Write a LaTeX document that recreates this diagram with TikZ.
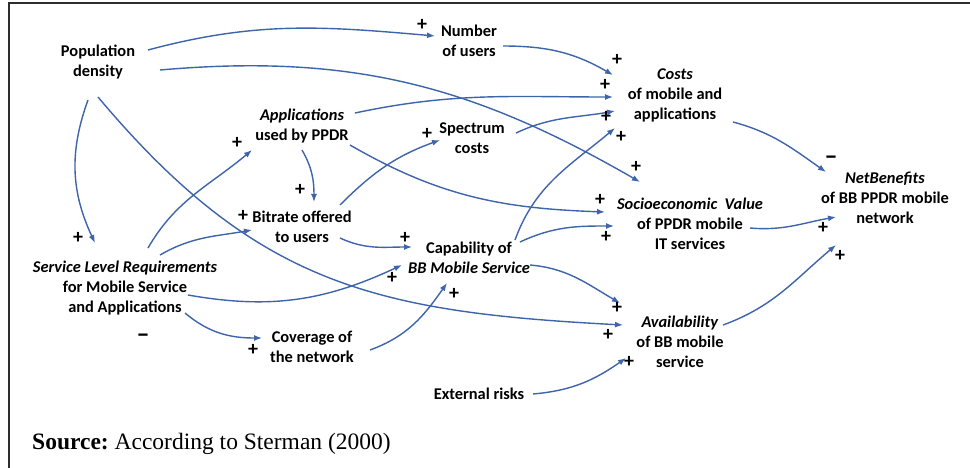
\documentclass[tikz,border=0pt]{standalone}
\usepackage{fontspec}
\setmainfont{Carlito}
\newfontfamily\srcfont{Liberation Serif}
\usetikzlibrary{arrows.meta}
\definecolor{arr}{RGB}{62,100,170}
\definecolor{frame}{RGB}{45,45,45}
\tikzset{
  var/.style={font=\bfseries\fontsize{16.4}{20}\selectfont, align=center, inner sep=0pt},
  pol/.style={font=\bfseries\fontsize{20}{20}\selectfont, inner sep=0pt},
  neg/.style={font=\bfseries\fontsize{26}{26}\selectfont, inner sep=0pt},
  link/.style={draw=arr, line width=1.4pt, -{Latex[length=8pt,width=6pt]}},
}
\begin{document}
\begin{tikzpicture}[x=1pt,y=1pt]
\useasboundingbox (0,0) rectangle (970,-468);
\fill[white] (0,0) rectangle (970,-468);
\draw[frame, line width=2.5pt] (9,-470) -- (9,-3) -- (970,-3);

% variables
\node[var] (pd) at (98,-62) {Population\\density};
\node[var] (nu) at (469,-41) {Number\\of users};
\node[var] (costs) at (675,-95) {\textit{Costs}\\of mobile and\\applications};
\node[var] (apps) at (302,-126) {\textit{Applications}\\used by PPDR};
\node[var] (spec) at (472,-138) {Spectrum\\costs};
\node[var] (bit) at (302,-227) {Bitrate offered\\to users};
\node[var] (cap) at (469,-258) {Capability of\\\textit{BB Mobile Service}};
\node[var] (soc) at (690,-224) {\textit{Socioeconomic\ \ Value}\\of PPDR mobile\\IT services};
\node[var] (net) at (885,-198) {\textit{NetBenefits}\\of BB PPDR mobile\\network};
\node[var] (slr) at (125,-288) {\textit{Service Level Requirements}\\for Mobile Service\\and Applications};
\node[var] (cov) at (312,-347) {Coverage of\\the network};
\node[var] (avail) at (680,-342) {\textit{Availability}\\of BB mobile\\service};
\node[var] (ext) at (479,-394) {External risks};
\node[anchor=base west, inner sep=0pt, font=\srcfont\fontsize{23.5}{26}\selectfont] (src) at (32,-449) {\textbf{Source:}\ According to Sterman (2000)};

% links
\draw[link] ([shift={(50,12)}]pd.center) to[out=15,in=175] ([shift={(-34,5)}]nu.center);
\draw[link] ([shift={(62,-8)}]pd.center) to[out=5,in=150] ([shift={(-50,42)}]soc.center);
\draw[link] ([shift={(-10,-38)}]pd.center) to[out=250,in=115] ([shift={(-30,45)}]slr.center);
\draw[link] ([shift={(0,-35)}]pd.center) to[out=-50,in=177,looseness=1.1] ([shift={(-57,17)}]avail.center);
\draw[link] ([shift={(23,40)}]slr.center) to[out=60,in=220] ([shift={(-50,-24)}]apps.center);
\draw[link] ([shift={(35,33)}]slr.center) to[out=30,in=190] ([shift={(-50,-3)}]bit.center);
\draw[link] ([shift={(63,-7)}]slr.center) to[out=-10,in=205] ([shift={(-67,-7)}]cap.center);
\draw[link] ([shift={(60,-25)}]slr.center) to[out=-40,in=180] ([shift={(-50,9)}]cov.center);
\draw[link] ([shift={(0,-24)}]apps.center) to[out=-60,in=90] ([shift={(12,25)}]bit.center);
\draw[link] ([shift={(53,13)}]apps.center) to[out=12,in=180] ([shift={(-62,-2)}]costs.center);
\draw[link] ([shift={(48,-19)}]apps.center) to[out=-30,in=178] ([shift={(-85,12)}]soc.center);
\draw[link] ([shift={(38,22)}]bit.center) to[out=45,in=200] ([shift={(-32,-2)}]spec.center);
\draw[link] ([shift={(38,-11)}]bit.center) to[out=-25,in=180] ([shift={(-57,11)}]cap.center);
\draw[link] ([shift={(44,5)}]spec.center) to[out=25,in=190] ([shift={(-60,-16)}]costs.center);
\draw[link] ([shift={(34,-5)}]nu.center) to[out=0,in=150] ([shift={(-62,20)}]costs.center);
\draw[link] ([shift={(46,18)}]cap.center) to[out=70,in=220] ([shift={(-60,-33)}]costs.center);
\draw[link] ([shift={(51,16)}]cap.center) to[out=25,in=180] ([shift={(-76,-2)}]soc.center);
\draw[link] ([shift={(61,-7)}]cap.center) to[out=-5,in=150] ([shift={(-60,39)}]avail.center);
\draw[link] ([shift={(58,-3)}]cov.center) to[out=20,in=235] ([shift={(-22,-25)}]cap.center);
\draw[link] ([shift={(54,0)}]ext.center) to[out=5,in=215] ([shift={(-54,-16)}]avail.center);
\draw[link] ([shift={(58,-27)}]costs.center) to[out=-15,in=145] ([shift={(-59,26)}]net.center);
\draw[link] ([shift={(60,-4)}]soc.center) to[out=-5,in=190] ([shift={(-49,-19)}]net.center);
\draw[link] ([shift={(43,17)}]avail.center) to[out=20,in=220] ([shift={(-49,-47)}]net.center);

% polarities
\node[pol] (p1) at (422,-25) {+};
\node[pol] (p2) at (617,-60) {+};
\node[pol] (p3) at (605,-85) {+};
\node[pol] (p4) at (606,-117) {+};
\node[pol] (p5) at (621,-137) {+};
\node[pol] (p6) at (237,-143) {+};
\node[pol] (p7) at (427,-134) {+};
\node[pol] (p8) at (636,-167) {+};
\node[pol] (p9) at (300,-190) {+};
\node[neg] (p10) at (831,-160) {\textendash};
\node[pol] (p11) at (600,-200) {+};
\node[pol] (p12) at (243,-216) {+};
\node[pol] (p13) at (606,-237) {+};
\node[pol] (p14) at (823,-228) {+};
\node[pol] (p15) at (78,-238) {+};
\node[pol] (p16) at (405,-238) {+};
\node[pol] (p17) at (392,-278) {+};
\node[pol] (p18) at (840,-256) {+};
\node[pol] (p19) at (454,-294) {+};
\node[pol] (p20) at (617,-308) {+};
\node[pol] (p21) at (608,-335) {+};
\node[neg] (p22) at (143,-338) {\textendash};
\node[pol] (p23) at (253,-350) {+};
\node[pol] (p24) at (629,-362) {+};
\end{tikzpicture}
\end{document}
